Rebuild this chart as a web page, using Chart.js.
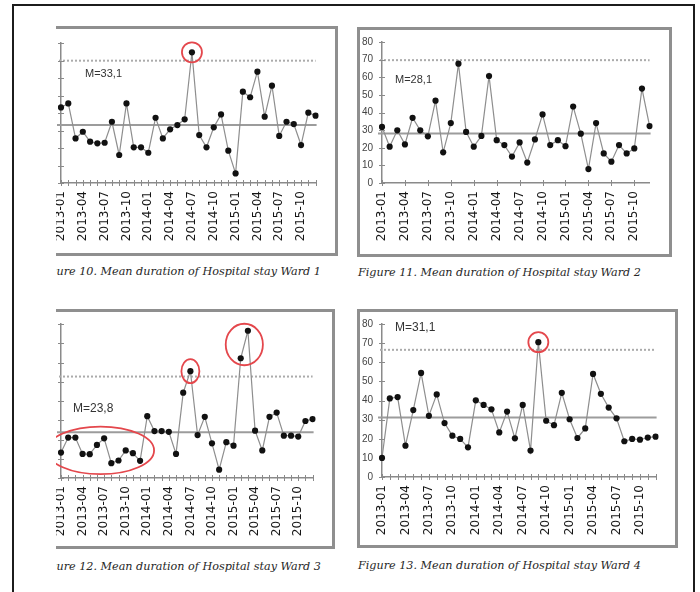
<!DOCTYPE html>
<html><head><meta charset="utf-8">
<script src="https://cdn.jsdelivr.net/npm/chart.js@4.4.0/dist/chart.umd.min.js"></script>
<style>
html,body{margin:0;padding:0;background:#fff;width:700px;height:592px;overflow:hidden;position:relative;font-family:"Liberation Sans",Arial,sans-serif;}
#frame{position:absolute;left:12px;top:4px;width:679px;height:640px;border:2.5px solid #1c1c1c;}
.clip{position:absolute;left:56px;top:0;width:300px;height:592px;overflow:hidden;}
.box{position:absolute;border:3px solid #8f8f8f;box-sizing:border-box;}
.cap{position:absolute;font-family:"DejaVu Serif",serif;font-style:italic;font-size:11.2px;line-height:13px;color:#262626;white-space:nowrap;}
.m{position:absolute;color:#333;white-space:nowrap;}
canvas{position:absolute;}
</style></head>
<body>
<div id="frame"></div>

<div class="clip">
  <div class="box" style="left:-20px;top:26px;width:302px;height:230px;"></div>
  <canvas id="c1" width="302" height="230" style="left:-20px;top:26px;"></canvas>
  <div class="m" style="left:29px;top:67px;font-size:11px;">M=33,1</div>
  <div class="cap" style="left:-18px;top:265px;">Figure 10. Mean duration of Hospital stay Ward 1</div>

  <div class="box" style="left:-20px;top:309px;width:299px;height:240px;"></div>
  <canvas id="c3" width="299" height="240" style="left:-20px;top:309px;"></canvas>
  <div class="m" style="left:17px;top:401px;font-size:12px;">M=23,8</div>
  <div class="cap" style="left:-18px;top:560px;">Figure 12. Mean duration of Hospital stay Ward 3</div>
</div>

<div class="box" style="left:357px;top:27px;width:315px;height:230px;"></div>
<canvas id="c2" width="315" height="230" style="left:357px;top:27px;"></canvas>
<div class="m" style="left:395px;top:73px;font-size:11px;">M=28,1</div>
<div class="cap" style="left:358px;top:266px;">Figure 11. Mean duration of Hospital stay Ward 2</div>

<div class="box" style="left:357px;top:309px;width:321px;height:239px;"></div>
<canvas id="c4" width="321" height="239" style="left:357px;top:309px;"></canvas>
<div class="m" style="left:395px;top:320px;font-size:12px;">M=31,1</div>
<div class="cap" style="left:358px;top:559px;">Figure 13. Mean duration of Hospital stay Ward 4</div>

<script>
// ---- data ----
const months = ['2013-01','2013-02','2013-03','2013-04','2013-05','2013-06','2013-07','2013-08','2013-09','2013-10','2013-11','2013-12',
                '2014-01','2014-02','2014-03','2014-04','2014-05','2014-06','2014-07','2014-08','2014-09','2014-10','2014-11','2014-12',
                '2015-01','2015-02','2015-03','2015-04','2015-05','2015-06','2015-07','2015-08','2015-09','2015-10','2015-11','2015-12'];
const shownTicks = ['2013-01','2013-04','2013-07','2013-10','2014-01','2014-04','2014-07','2014-10','2015-01','2015-04','2015-07','2015-10'];
const ward1 = [43.2,45.5,25.5,29.3,23.6,22.7,23,35,16,45.5,20.4,20.4,17.3,37.3,25.5,30.7,33.1,36.4,74.7,27.4,20.4,31.8,39.2,18.5,5.5,52.2,49,63.6,37.9,55.6,26.9,35,33.7,21.7,40.2,38.5];
const ward2 = [31.8,20.6,29.9,21.9,37,29.9,26.5,46.7,17.4,34,67.7,29,20.6,26.7,60.7,24.3,21.5,15,23,11.6,24.7,38.9,21.5,24.3,20.9,43.4,28,7.9,34,16.8,12.1,21.5,16.8,19.6,53.6,32.3];
const ward3 = [13.2,21,21,12.5,12.4,17.2,20.6,7.7,9.1,14.3,12.9,8.9,32.1,24.4,24.4,24,12.5,44.3,55.5,22.3,31.8,18,4.3,18.6,16.8,62.2,76.5,24.6,14.3,31.8,34,22,22,21.5,29.6,30.6];
const ward4 = [10,41.1,41.8,16.4,35,54.4,32,43.2,28.2,21.6,19.9,15.5,40.1,37.7,35.4,23.3,34.2,20.2,37.7,13.8,70.5,29.4,27.1,44,30.2,20.4,25.4,53.9,43.5,36.3,30.7,18.7,19.9,19.5,20.6,21.1];
const means = [33.1, 28.1, 23.8, 31.1];
const upperLimits = [69.9, 69.7, 52.7, 66.5];
const yMin = 0, yMax = 80, yStep = 10;

// ---- plugin: control lines, crossing ticks, red rings ----
const spc = {
  id:'spc',
  beforeDatasetsDraw(chart, args, o){
    const ctx = chart.ctx, a = chart.chartArea, x = chart.scales.x, y = chart.scales.y;
    ctx.save();
    ctx.strokeStyle = '#ababab'; ctx.lineWidth = 2; ctx.setLineDash([2,2]);
    let yy = y.getPixelForValue(o.ucl);
    ctx.beginPath(); ctx.moveTo(a.left-2, yy); ctx.lineTo(a.right, yy); ctx.stroke();
    ctx.setLineDash([]);
    ctx.strokeStyle = '#9c9c9c'; ctx.lineWidth = 2;
    yy = y.getPixelForValue(o.mean);
    ctx.beginPath(); ctx.moveTo(a.left-4, yy); ctx.lineTo(a.right+1, yy); ctx.stroke();
    ctx.strokeStyle = '#8a8a8a'; ctx.lineWidth = 1;
    x.ticks.forEach((t,i)=>{
      if (i % o.xEvery) return;
      const px = Math.round(x.getPixelForTick(i))+0.5;
      ctx.beginPath(); ctx.moveTo(px, a.bottom-3); ctx.lineTo(px, a.bottom+3); ctx.stroke();
    });
    y.ticks.forEach((t,i)=>{
      const py = Math.round(y.getPixelForTick(i))+0.5;
      ctx.beginPath(); ctx.moveTo(a.left-3, py); ctx.lineTo(a.left+3, py); ctx.stroke();
    });
    ctx.restore();
  },
  afterDatasetsDraw(chart, args, o){
    const ctx = chart.ctx, meta = chart.getDatasetMeta(0);
    ctx.save();
    ctx.strokeStyle = '#e4474c'; ctx.lineWidth = 1.8;
    (o.rings||[]).forEach(r=>{
      const pts = meta.data.slice(r.from, r.to+1);
      const xs = pts.map(p=>p.x), ys = pts.map(p=>p.y);
      const x0 = Math.min(...xs)-r.px, x1 = Math.max(...xs)+r.px;
      const y0 = Math.min(...ys)-r.py, y1 = Math.max(...ys)+r.py;
      ctx.beginPath();
      ctx.ellipse((x0+x1)/2, (y0+y1)/2, (x1-x0)/2, (y1-y0)/2, 0, 0, Math.PI*2);
      ctx.stroke();
    });
    ctx.restore();
  }
};

function make(id, values, idx, geo, xEvery, rings){
  new Chart(document.getElementById(id), {
    type:'line',
    data:{ labels: months, datasets:[{ data: values, borderColor:'#8e8e8e', borderWidth:1.2, tension:0,
      pointRadius:3.1, pointBackgroundColor:'#111', pointBorderWidth:0, pointHoverRadius:3.1 }]},
    options:{
      responsive:false, animation:false, devicePixelRatio:1,
      layout:{ autoPadding:false, padding:{ top:geo.top, right:geo.right, left:0, bottom:0 } },
      plugins:{ legend:{display:false}, tooltip:{enabled:false},
        spc:{ mean: means[idx], ucl: upperLimits[idx], xEvery: xEvery, rings: rings } },
      scales:{
        x:{ offset:false,
          grid:{ display:true, drawOnChartArea:false, drawTicks:false },
          border:{ display:true, color:'#8a8a8a', width:1.5 },
          ticks:{ autoSkip:false, minRotation:90, maxRotation:90, padding:8, color:'#151515',
            font:{ family:'DejaVu Sans', size:12 },
            callback(v){ const l = this.getLabelForValue(v); return shownTicks.includes(l) ? l : ''; } },
          afterFit(s){ s.height = geo.xh; } },
        y:{ min:yMin, max:yMax,
          grid:{ display:true, drawOnChartArea:false, drawTicks:false },
          border:{ display:true, color:'#8a8a8a', width:1.5 },
          ticks:{ stepSize:yStep, padding:9, color:'#444', font:{ family:'Liberation Sans', size:10 } },
          afterFit(s){ s.width = 25; } }
      }
    },
    plugins:[spc]
  });
}

make('c1', ward1, 0, {top:17, right:7, xh:73}, 1, [{from:18,to:18,px:10,py:10}]);
make('c2', ward2, 1, {top:14, right:10, xh:74}, 3, []);
make('c3', ward3, 2, {top:14, right:9, xh:71}, 1,
  [{from:0,to:11,px:14,py:11},{from:18,to:18,px:9,py:12},{from:25,to:26,px:15,py:7}]);
make('c4', ward4, 3, {top:13, right:8, xh:71}, 1, [{from:20,to:20,px:10,py:10}]);
</script>
</body></html>
